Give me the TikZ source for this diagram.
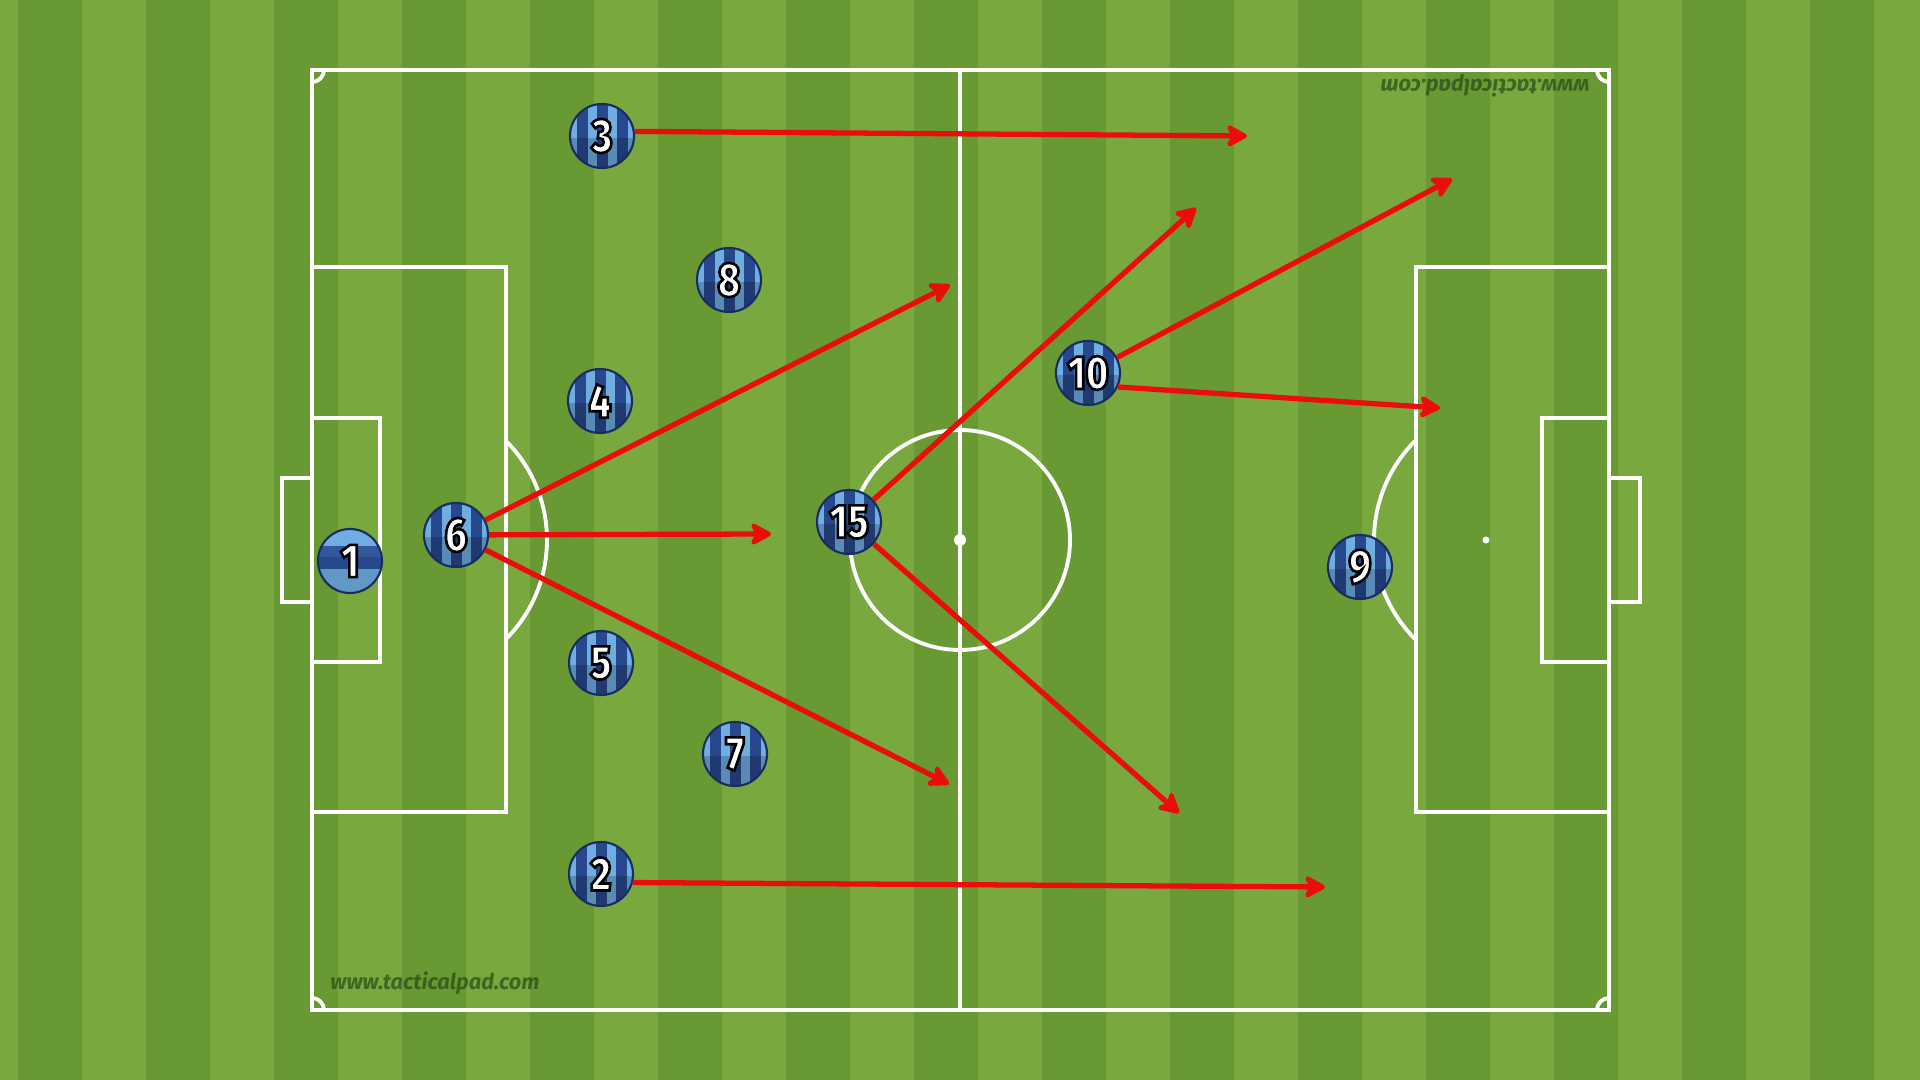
\documentclass[tikz,border=0pt]{standalone}
\usepackage{fontspec}
\IfFontExistsTF{Fira Sans Heavy}{\newfontfamily\numfont{Fira Sans Heavy}[FakeStretch=0.8]}{%
 \IfFontExistsTF{Fira Sans Black}{\newfontfamily\numfont{Fira Sans Black}[FakeStretch=0.8]}{%
  \IfFontExistsTF{Fira Sans ExtraBold}{\newfontfamily\numfont{Fira Sans ExtraBold}[FakeStretch=0.8]}{%
   \newfontfamily\numfont{Fira Sans}[FakeStretch=0.8,UprightFont={* Bold}]}}}
\newfontfamily\wmfont{Fira Sans}
\usetikzlibrary{arrows.meta}
\definecolor{grassL}{RGB}{120,168,62}
\definecolor{grassD}{RGB}{105,153,51}
\definecolor{tokL}{RGB}{112,174,226}
\definecolor{tokD}{RGB}{40,72,142}
\definecolor{tokB}{RGB}{24,44,96}
\definecolor{arrred}{RGB}{236,12,12}
\definecolor{wmgreen}{RGB}{38,74,22}
\newcommand{\outl}[1]{\special{pdf:literal direct 0 0 0 RG 2 Tr 0.75 w}#1\special{pdf:literal direct 0 Tr}}
\tikzset{
  pline/.style={draw=white,line width=1.1pt},
  tok/.style={circle,minimum size=0.64cm,inner sep=0pt,draw=tokB,line width=0.6pt,
    text=white,font=\numfont\fontsize{13.5}{13.5}\selectfont,
    path picture={
      \coordinate (c) at (path picture bounding box.center);
      \fill[tokL] ([shift={(-40,-40)}]c) rectangle ([shift={(40,40)}]c);
      \foreach \dx in {-20,0,20}{\fill[tokD] ([shift={(\dx-5.5,-40)}]c) rectangle ([shift={(\dx+5.5,40)}]c);}
      \fill[black,opacity=0.2] ([shift={(-40,2)}]c) rectangle ([shift={(40,40)}]c);
    }},
  gk/.style={tok,
    path picture={
      \coordinate (c) at (path picture bounding box.center);
      \fill[tokL] ([shift={(-40,-40)}]c) rectangle ([shift={(40,40)}]c);
      \fill[tokD!85!tokL] ([shift={(-40,-15)}]c) rectangle ([shift={(40,-4)}]c);
      \fill[tokD] ([shift={(-40,-4)}]c) rectangle ([shift={(40,8)}]c);
      \fill[black,opacity=0.12] ([shift={(-40,8)}]c) rectangle ([shift={(40,40)}]c);
    }},
  arr/.style={draw=arrred,line width=1.5pt,-{Stealth[length=0.25cm,width=0.27cm,inset=0.07cm,round]}},
  wm/.style={text=wmgreen,opacity=0.7,font=\wmfont\bfseries\itshape\fontsize{6.2}{7}\selectfont,inner sep=0pt}
}
\begin{document}
\begin{tikzpicture}[x=0.01cm,y=-0.01cm]
\useasboundingbox (0,0) rectangle (1920,1080);
% grass
\fill[grassL] (0,0) rectangle (1920,1080);
\foreach \i in {0,...,14}{\fill[grassD] ({18+128*\i},0) rectangle ({82+128*\i},1080);}
% pitch
\draw[pline] (312,70) rectangle (1609,1010);
\draw[pline] (960,70) -- (960,1010);
\draw[pline] (960,540) circle[radius=110];
\fill[white] (960,540) circle[radius=6];
\draw[pline] (312,267) rectangle (506,812);
\draw[pline] (312,418) rectangle (380,662);
\draw[pline] (312,478) -- (282,478) -- (282,602) -- (312,602);
\draw[pline] (1609,267) rectangle (1416,812);
\draw[pline] (1609,418) rectangle (1542,662);
\draw[pline] (1609,478) -- (1640,478) -- (1640,602) -- (1609,602);
\draw[pline] (407,540) ++(-45:140) arc[start angle=-45,end angle=45,radius=140];
\draw[pline] (1514,540) ++(134.4:140) arc[start angle=134.4,end angle=225.6,radius=140];
\fill[white] (436,540) circle[radius=3.5];
\fill[white] (1486,540) circle[radius=3.5];
\draw[pline] (324,70) arc[start angle=0,end angle=90,radius=12];
\draw[pline] (1609,82) arc[start angle=90,end angle=180,radius=12];
\draw[pline] (312,998) arc[start angle=270,end angle=360,radius=12];
\draw[pline] (1597,1010) arc[start angle=180,end angle=270,radius=12];
% watermarks
\node[wm] (wm1) at (435,983) {www.tacticalpad.com};
\node[wm,rotate=180] (wm2) at (1485,86) {www.tacticalpad.com};
% players
\node[gk]  (p1)  at (350,561) {\outl{1}};
\node[tok] (p6)  at (456,535) {\outl{6}};
\node[tok] (p3)  at (602,136) {\outl{3}};
\node[tok] (p8)  at (729,280) {\outl{8}};
\node[tok] (p4)  at (600,401) {\outl{4}};
\node[tok] (p5)  at (601,663) {\outl{5}};
\node[tok] (p7)  at (735,754) {\outl{7}};
\node[tok] (p2)  at (601,874) {\outl{2}};
\node[tok] (p15) at (849,522) {\outl{15}};
\node[tok] (p10) at (1088,373) {\outl{10}};
\node[tok] (p9)  at (1360,567) {\outl{9}};
% arrow targets
\coordinate (e3) at (1247,136);
\coordinate (e6a) at (950,285);
\coordinate (e6b) at (771,534);
\coordinate (e6c) at (949,784);
\coordinate (e15a) at (1196,208);
\coordinate (e15b) at (1179,813);
\coordinate (e10a) at (1452,179);
\coordinate (e10b) at (1440,408);
\coordinate (e2) at (1325,887);
% arrows
\draw[arr] (p3.8) -- (e3);
\draw[arr] (p6) -- (e6a);
\draw[arr] (p6) -- (e6b);
\draw[arr] (p6) -- (e6c);
\draw[arr] (p15) -- (e15a);
\draw[arr] (p15) -- (e15b);
\draw[arr] (p10) -- (e10a);
\draw[arr] (p10.-25) -- (e10b);
\draw[arr] (p2.-15) -- (e2);
\end{tikzpicture}
\end{document}
